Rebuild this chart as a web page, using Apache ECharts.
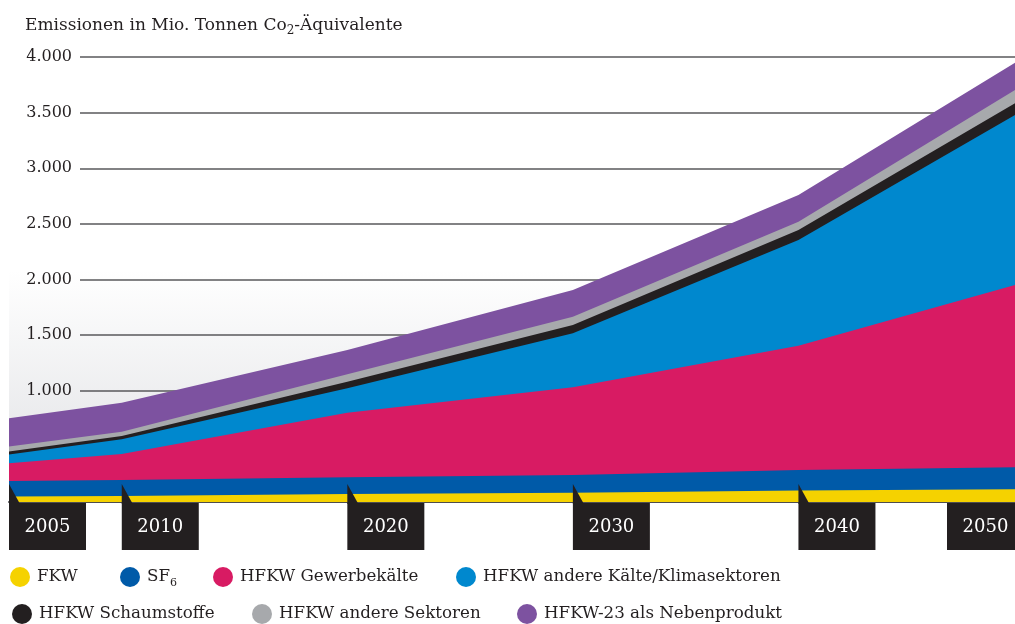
<!DOCTYPE html>
<html>
<head>
<meta charset="utf-8">
<script src="https://cdn.jsdelivr.net/npm/echarts@6/dist/echarts.min.js"></script>
<style>
  html, body { margin: 0; padding: 0; background: #fff; }
  #main { width: 1015px; height: 624px; }
</style>
</head>
<body>
<div id="main"></div>
<script>
var years = [2005, 2010, 2020, 2030, 2040, 2050];
var fkw = [49, 54, 72, 84, 103, 115];
var sf6 = [140, 144, 150, 159, 185, 199];
var gewerbe = [159, 233, 581, 788, 1117, 1660];
var klima = [80, 133, 219, 485, 950, 1551];
var schaum = [25, 29, 59, 75, 90, 106];
var andere = [45, 39, 67, 75, 74, 121];
var hfkw23 = [254, 261, 218, 240, 241, 246];
var yTicks = [0, 500, 1000, 1500, 2000, 2500, 3000, 3500, 4000];

var serif = '"DejaVu Serif", "Liberation Serif", serif';
var ink = '#231f20';

var names = ['FKW', 'SF6', 'HFKW Gewerbekälte', 'HFKW andere Kälte/Klimasektoren',
	'HFKW Schaumstoffe', 'HFKW andere Sektoren', 'HFKW-23 als Nebenprodukt'];
var colors = ['#f5d200', '#005aa8', '#d81b63', '#0088ce', '#231f20', '#a7a9ac', '#7d52a0'];
var values = [fkw, sf6, gewerbe, klima, schaum, andere, hfkw23];
// where each legend entry sits (left, top)
var legendPos = [[10, 567], [120, 567], [213, 567], [456, 567], [12, 604], [252, 604], [517, 604]];

var myChart = echarts.init(document.getElementById('main'));

// running totals, so each layer sits on the ones below it
var totals = [];
values.forEach(function(arr, i){
	totals.push(arr.map(function(v, j){ return v + (i ? totals[i - 1][j] : 0); }));
});

var series = [];
// top layer first, lower layers painted over it
for (var i = names.length - 1; i >= 0; i--) {
	series.push({
		name: names[i],
		type: 'line',
		xAxisIndex: 0,
		yAxisIndex: 0,
		symbol: 'none',
		lineStyle: { width: 0 },
		itemStyle: { color: colors[i] },
		areaStyle: { color: colors[i], opacity: 1 },
		data: years.map(function(y, j){ return [y, totals[i][j]]; })
	});
}

// year boxes under the axis
series.push({
	type: 'custom',
	xAxisIndex: 0,
	yAxisIndex: 0,
	clip: false,
	z: 5,
	data: years.map(function(y){ return [y]; }),
	renderItem: function(params, api){
		var year = api.value(0);
		var p = api.coord([year, 0]);
		var last = year === years[years.length - 1];
		var w = 77, h = 47;
		var x0 = last ? p[0] - w : p[0];
		var kids = [{ type: 'rect', shape: { x: x0, y: p[1] + 1, width: w, height: h }, style: { fill: ink } }];
		if (!last) {
			kids.push({ type: 'polygon', shape: { points: [[p[0], p[1] - 18], [p[0] + 11, p[1] + 2], [p[0], p[1] + 2]] }, style: { fill: ink } });
		}
		kids.push({ type: 'text', style: { text: String(year), x: x0 + w / 2, y: p[1] + 25, align: 'center', verticalAlign: 'middle', fill: '#fff', font: '18px ' + serif } });
		return { type: 'group', children: kids };
	}
});

var legendText = {
	fontFamily: serif, fontSize: 16.7, color: ink,
	rich: {
		t: { fontFamily: serif, fontSize: 16.7, color: ink, padding: [0, 0, 0, 2] },
		s: { fontFamily: serif, fontSize: 11, color: ink, padding: [12, 0, 0, 0] }
	}
};
function legendFmt(n){
	return n === 'SF6' ? '{t|SF}{s|6}' : '{t|' + n + '}';
}

var option = {
	animation: false,
	title: {
		text: 'Emissionen in Mio. Tonnen Co{s|2}-Äquivalente',
		left: 20,
		top: 10,
		textStyle: {
			fontFamily: serif, fontSize: 17, fontWeight: 'normal', color: ink,
			rich: { s: { fontFamily: serif, fontSize: 12, color: ink, padding: [10, 0, 0, 0] } }
		}
	},
	legend: names.map(function(n, i){
		return {
			data: [n], left: legendPos[i][0], top: legendPos[i][1], padding: 0, icon: 'circle',
			itemWidth: 20, itemHeight: 20, textStyle: legendText, formatter: legendFmt
		};
	}),
	grid: [
		{
			left: 9, width: 1015, top: 57, bottom: 122, show: true, borderWidth: 0,
			outerBoundsMode: 'none', containLabel: false,
			backgroundColor: new echarts.graphic.LinearGradient(0, 0, 0, 1, [
				{ offset: 0, color: '#ffffff' },
				{ offset: 0.48, color: '#ffffff' },
				{ offset: 1, color: '#dfe0e3' }
			])
		},
		{ left: 80, width: 944, top: 57, bottom: 122, outerBoundsMode: 'none', containLabel: false }
	],
	xAxis: [
		{
			type: 'value', gridIndex: 0, min: 2005, max: 2050, offset: 2,
			axisLine: { show: true, lineStyle: { color: '#4d4d4f', width: 2 } },
			axisTick: { show: false }, axisLabel: { show: false }, splitLine: { show: false }
		},
		{ type: 'value', gridIndex: 1, min: 2005, max: 2050, show: false }
	],
	yAxis: [
		{ type: 'value', gridIndex: 0, min: 0, max: 4000, show: false },
		{
			type: 'value', gridIndex: 1, min: yTicks[0], max: yTicks[yTicks.length - 1], interval: 500,
			axisLine: { show: false }, axisTick: { show: false },
			splitLine: { show: true, lineStyle: { color: '#58595b', width: 1.5 } },
			axisLabel: {
				margin: 8, showMinLabel: false, color: ink, fontFamily: serif, fontSize: 16,
				formatter: function(v){ return String(v).replace(/\B(?=(\d{3})+(?!\d))/g, '.'); }
			}
		}
	],
	series: series
};
myChart.setOption(option);
</script>
</body>
</html>
